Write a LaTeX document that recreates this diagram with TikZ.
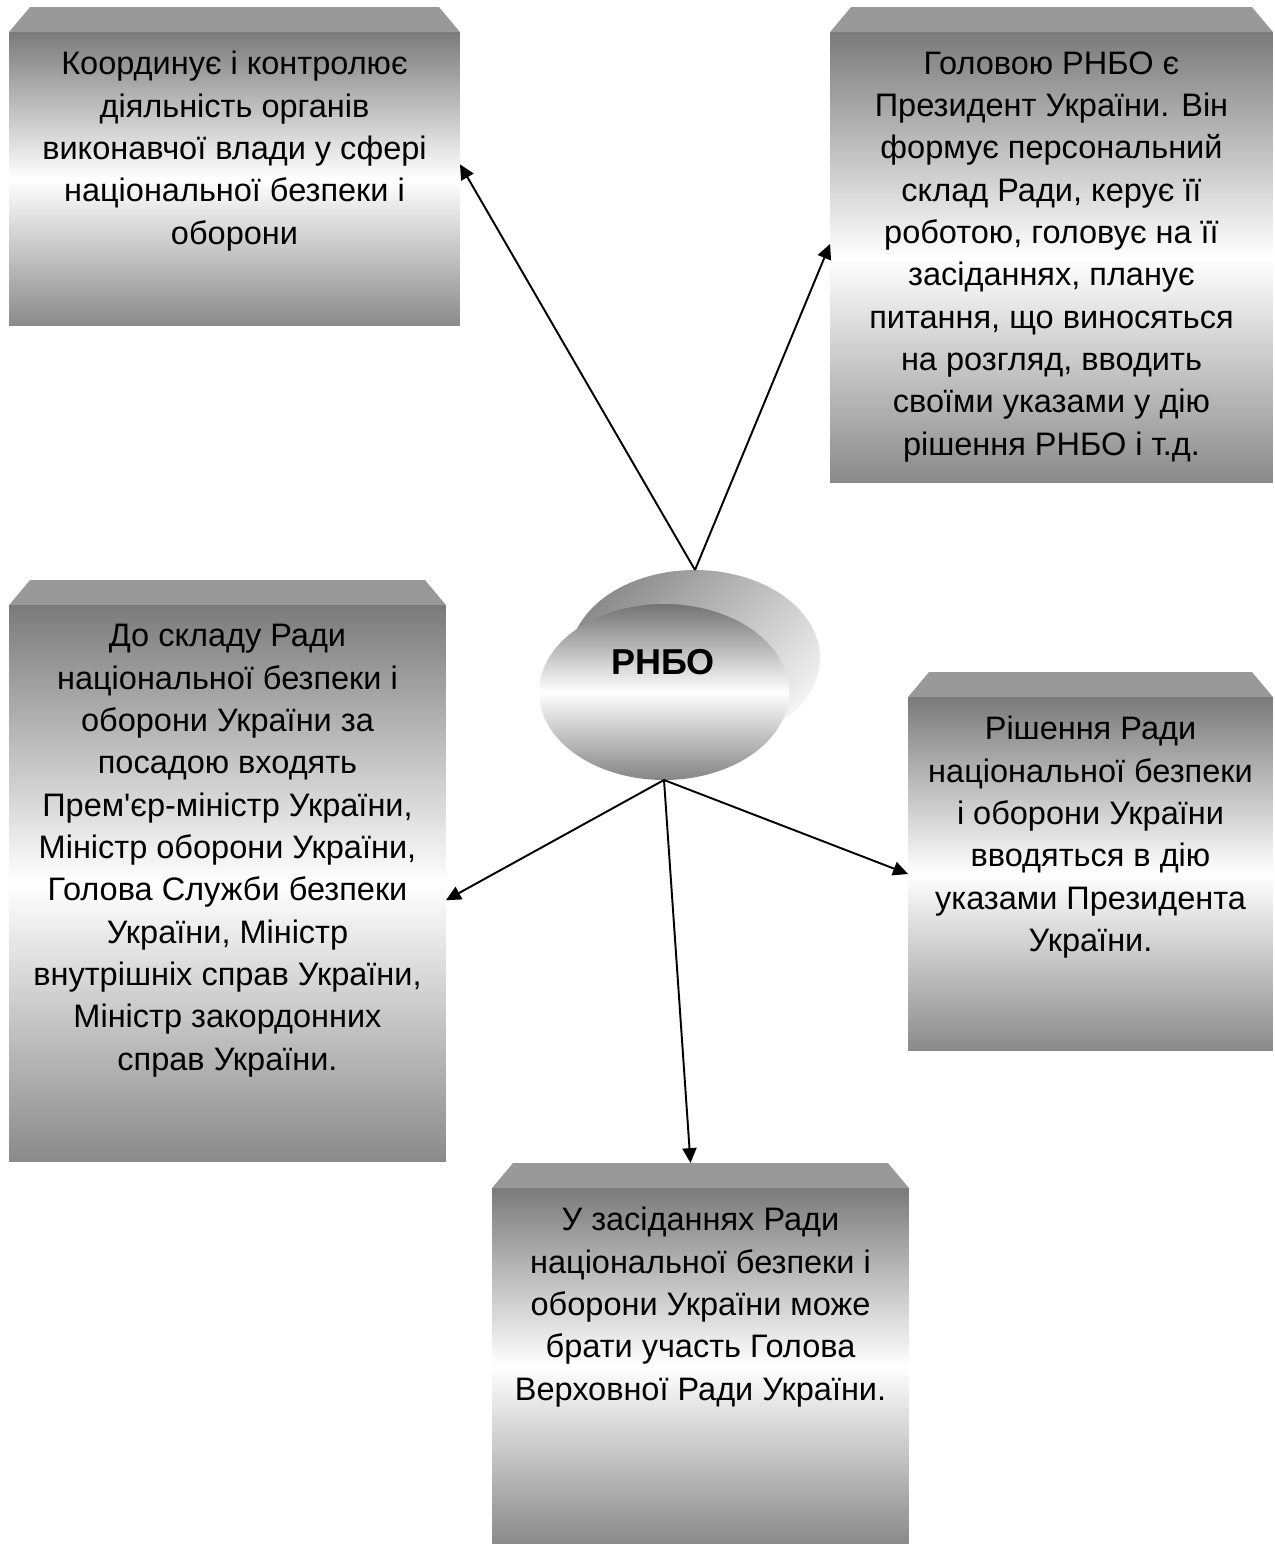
\documentclass[tikz,border=0pt]{standalone}
\usepackage{fontspec}
\setmainfont{Liberation Sans}[Ligatures=TeXOff]
\usetikzlibrary{arrows.meta,calc,shapes.geometric,positioning}
\tikzset{
  face/.style={rectangle,draw=none,inner sep=0pt,outer sep=0pt,
    top color=black!52,bottom color=black!46,middle color=white},
  bev/.style={fill=black!40},
  txt/.style={font=\fontsize{18.5pt}{24.1pt}\selectfont,align=center,inner sep=0pt,anchor=north},
  % the council is two ellipses, a pale one behind and up to the right
  rim/.style={ellipse,draw=none,inner sep=0pt,outer sep=0pt,minimum width=5cm,minimum height=3.52cm,
    top color=black!45,bottom color=black!5,shading angle=45},
  hub/.style={ellipse,draw=none,inner sep=0pt,outer sep=0pt,minimum width=5cm,minimum height=3.52cm,
    top color=black!55,bottom color=black!48,middle color=white},
  hubl/.style={font=\fontsize{20.5pt}{24pt}\selectfont\bfseries,inner sep=0pt},
  arr/.style={-{Triangle[length=8.5pt,width=8pt]},line width=1.1pt,draw=black},
}
\begin{document}
\begin{tikzpicture}[x=0.02cm,y=-0.02cm]
\useasboundingbox (0,0) rectangle (1274,1544);
% ============================= boxes
\node[face,minimum width=9.02cm,minimum height=5.88cm] (k1) at (234.5,179) {};
\node[face,minimum width=8.86cm,minimum height=9.02cm] (k2) at (1051.5,257.5) {};
\node[face,minimum width=8.74cm,minimum height=11.14cm] (k3) at (227.5,883.5) {};
\node[face,minimum width=7.30cm,minimum height=7.08cm] (k4) at (1090.5,874) {};
\node[face,minimum width=8.34cm,minimum height=7.12cm] (k5) at (700.5,1366) {};
\foreach \k in {k1,k2,k3,k4,k5}
  \fill[bev] (\k.north west) -- ($(\k.north west)+(21,-25)$)
    -- ($(\k.north east)+(-21,-25)$) -- (\k.north east) -- cycle;
\coordinate (k5top) at ($(k5.north)+(-10,-25)$);
% ============================= texts
\node[txt] (t1) at ([yshift=-0.38cm]k1.north)
  {Координує і контролює\\ діяльність органів\\ виконавчої влади у сфері\\ національної безпеки і\\ оборони};
\node[txt] (t2) at ([yshift=-0.38cm]k2.north)
  {Головою РНБО є\\ Президент України. Він\\ формує персональний\\ склад Ради, керує її\\ роботою, головує на її\\
   засіданнях, планує\\ питання, що виносяться\\ на розгляд, вводить\\ своїми указами у дію\\ рішення РНБО і т.д.};
\node[txt] (t3) at ([yshift=-0.38cm]k3.north)
  {До складу Ради\\ національної безпеки і\\ оборони України за\\ посадою входять\\ Прем'єр-міністр України,\\
   Міністр оборони України,\\ Голова Служби безпеки\\ України, Міністр\\ внутрішніх справ України,\\
   Міністр закордонних\\ справ України.};
\node[txt] (t4) at ([yshift=-0.38cm]k4.north)
  {Рішення Ради\\ національної безпеки\\ і оборони України\\ вводяться в дію\\ указами Президента\\ України.};
\node[txt] (t5) at ([yshift=-0.38cm]k5.north)
  {У засіданнях Ради\\ національної безпеки і\\ оборони України може\\ брати участь Голова\\ Верховної Ради України.};
% ============================= council
\node[rim] (back) at (695,658) {};
\node[hub] (front) at (664,692) {};
\node[hubl] (lbl) at (663,662) {РНБО};
% ============================= arrows
\draw[arr] (back.north) -- ($(k1.north east)!0.45!(k1.south east)$);
\draw[arr] (back.north) -- ($(k2.north west)!0.47!(k2.south west)$);
\draw[arr] (front.south) -- ($(k3.north east)!0.53!(k3.south east)$);
\draw[arr] (front.south) -- (k4.west);
\draw[arr] (front.south) -- (k5top);
\end{tikzpicture}
\end{document}
